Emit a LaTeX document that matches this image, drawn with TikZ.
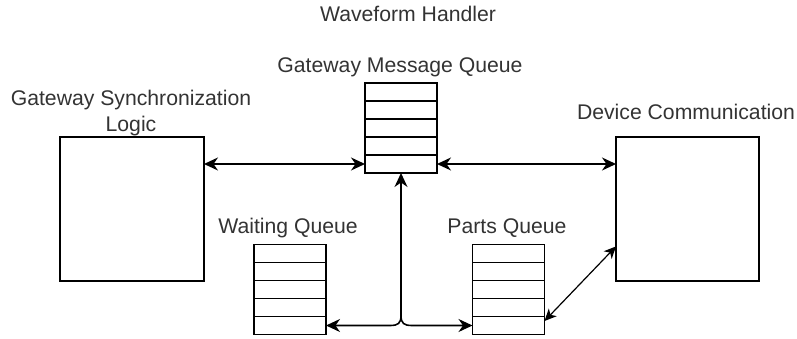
\documentclass[tikz,border=0pt]{standalone}
\usepackage{fontspec}
\setmainfont{Liberation Sans}
\usetikzlibrary{arrows.meta,calc}
\begin{document}
\begin{tikzpicture}[x=1pt,y=-1pt,
  every node/.style={inner sep=0pt, outer sep=0pt},
  lbl/.style={text=black!80, font=\fontsize{21.2}{25.5}\selectfont, align=center},
  bigbox/.style={draw=black, line width=1.6pt, minimum width=144, minimum height=144},
  queuebox/.style={draw=black, line width=1.6pt, minimum width=72, minimum height=90},
  tip/.style={Stealth[length=14pt,width=13pt,inset=4.5pt]},
  conn/.style={line width=1.6pt, {Stealth[length=14pt,width=13pt,inset=4.5pt]}-{Stealth[length=14pt,width=13pt,inset=4.5pt]}},
  thinconn/.style={line width=1.2pt, {Stealth[length=12pt,width=11pt,inset=3.5pt]}-{Stealth[length=12pt,width=11pt,inset=3.5pt]}}
]
\useasboundingbox (0,0) rectangle (797,339);

% labels
\node[lbl] (wh) at (408,14) {Waveform Handler};
\node[lbl] (gmql) at (400,67) {Gateway Message Queue};
\node[lbl] (gsll) at (131,113) {Gateway Synchronization\\Logic};
\node[lbl] (devl) at (686,112) {Device Communication};
\node[lbl] (wql) at (288,228) {Waiting Queue};
\node[lbl] (pql) at (507,228) {Parts Queue};

% boxes
\node[bigbox] (gsl) at (132,209) {};
\node[bigbox, minimum width=143] (dev) at (687.5,209) {};
\node[queuebox] (gmq) at (401,128) {};
\node[queuebox] (wq) at (290,289.5) {};
\node[queuebox] (pq) at (508.5,289.5) {};

\foreach \n in {gmq,wq,pq}{
  \foreach \i in {1,...,4}{
    \draw[line width=1.6pt] ($(\n.north west)!\i/5!(\n.south west)$) -- ($(\n.north east)!\i/5!(\n.south east)$);
  }
}

% connectors
\coordinate (gmqL) at ($(gmq.north west)!0.9!(gmq.south west)$);
\coordinate (gmqR) at ($(gmq.north east)!0.9!(gmq.south east)$);
\draw[conn] (gsl.east |- gmqL) -- (gmqL);
\draw[conn] (gmqR) -- (dev.west |- gmqR);

\coordinate (wqR) at ($(wq.north east)!0.9!(wq.south east)$);
\coordinate (pqL) at ($(pq.north west)!0.9!(pq.south west)$);
\coordinate (pqR) at ($(pq.north east)!0.85!(pq.south east)$);
\coordinate (devD) at ($(dev.north west)!0.76!(dev.south west)$);
\coordinate (junc) at ($(gmq.south |- wqR)+(0,-10)$);

\draw[line width=1.6pt, -{Stealth[length=14pt,width=13pt,inset=4.5pt]}] (junc) -- (gmq.south);
\draw[line width=1.6pt, -{Stealth[length=14pt,width=13pt,inset=4.5pt]}]
  (junc) .. controls ($(gmq.south |- wqR)+(0,-2)$) and ($(gmq.south |- wqR)+(-3,0)$) .. ($(gmq.south |- wqR)+(-11,0)$) -- (wqR);
\draw[line width=1.6pt, -{Stealth[length=14pt,width=13pt,inset=4.5pt]}]
  (junc) .. controls ($(gmq.south |- wqR)+(0,-2)$) and ($(gmq.south |- wqR)+(3,0)$) .. ($(gmq.south |- wqR)+(11,0)$) -- (pqL);

\draw[thinconn] (pqR) -- (devD);
\end{tikzpicture}
\end{document}
